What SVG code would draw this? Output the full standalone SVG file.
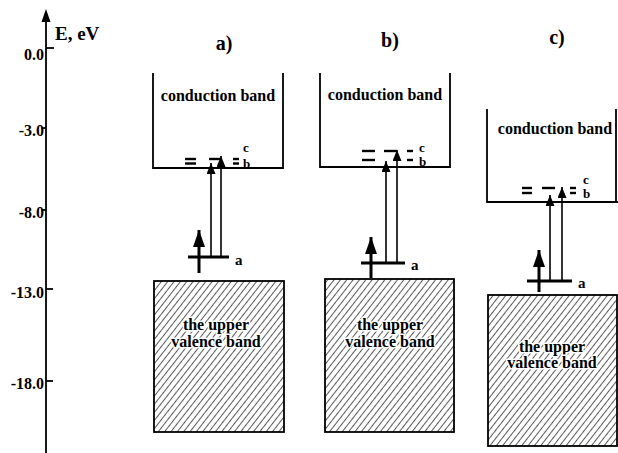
<svg xmlns="http://www.w3.org/2000/svg" width="618" height="453" viewBox="0 0 618 453">
<style>
.t{font-family:"Liberation Serif","DejaVu Serif","Noto Serif",serif;font-weight:bold;fill:#000}
.ln{stroke:#000;fill:none;stroke-width:1.8}
.dash{stroke:#000;stroke-width:2.4}
.lvl{stroke:#000;stroke-width:3}
.thin{stroke:#000;stroke-width:1.6;fill:none}
.thick{stroke:#000;stroke-width:3;fill:none}
.halo{paint-order:stroke;stroke:#fff;stroke-width:3;stroke-linejoin:round}
</style>
<defs>
<pattern id="hatch" width="5" height="10" patternUnits="userSpaceOnUse" patternTransform="rotate(38)">
<line x1="0" y1="-1" x2="0" y2="11" stroke="#000" stroke-width="1.3"/>
</pattern>
<marker id="ah" markerUnits="userSpaceOnUse" markerWidth="11" markerHeight="9" refX="11" refY="4.5" orient="auto">
<path d="M0,0 L11,4.5 L0,9 z" fill="#000"/>
</marker>
<marker id="ahb" markerUnits="userSpaceOnUse" markerWidth="17" markerHeight="12" refX="17" refY="6" orient="auto">
<path d="M0,0 L17,6 L0,12 z" fill="#000"/>
</marker>
</defs>

<g id="axis">
<line x1="46" y1="453" x2="46" y2="20" class="ln" stroke-width="2"/>
<path d="M46,9 L50.5,22 L41.5,22 z" fill="#000"/>
<line x1="46" y1="48" x2="54" y2="48" class="ln"/>
<line x1="42" y1="128" x2="46" y2="128" class="ln"/>
<line x1="42" y1="210" x2="46" y2="210" class="ln"/>
<line x1="46" y1="289" x2="53" y2="289" class="ln"/>
<line x1="46" y1="381" x2="53" y2="381" class="ln"/>
<text class="t" x="55" y="40" font-size="19">E, eV</text>
<text class="t" x="44" y="60" font-size="16" text-anchor="end">0.0</text>
<text class="t" x="44" y="136" font-size="16" text-anchor="end">-3.0</text>
<text class="t" x="44" y="218" font-size="16" text-anchor="end">-8.0</text>
<text class="t" x="44" y="298" font-size="16" text-anchor="end">-13.0</text>
<text class="t" x="44" y="389" font-size="16" text-anchor="end">-18.0</text>
</g>

<g id="titles">
<text class="t" x="224" y="50" font-size="20" text-anchor="middle">a)</text>
<text class="t" x="390" y="47" font-size="20" text-anchor="middle">b)</text>
<text class="t" x="557" y="44" font-size="20" text-anchor="middle">c)</text>
</g>

<!-- panel a -->
<g id="a-conduction">
<path d="M153,73 V168 H283 V73" class="ln"/>
<text class="t" x="218" y="101" font-size="16" text-anchor="middle">conduction band</text>
</g>
<g id="a-levels">
<line x1="185" y1="159" x2="196" y2="159" class="dash"/>
<line x1="185" y1="163.5" x2="196" y2="163.5" class="dash"/>
<line x1="209" y1="159" x2="221" y2="159" class="dash"/>
<line x1="233" y1="159" x2="239" y2="159" class="dash"/>
<line x1="233" y1="163.5" x2="239" y2="163.5" class="dash"/>
<text class="t" x="243" y="152" font-size="13">c</text>
<text class="t" x="243" y="168" font-size="13">b</text>
</g>
<g id="a-level-a">
<line x1="188" y1="257" x2="229" y2="257" class="lvl"/>
<text class="t" x="235" y="265" font-size="15">a</text>
</g>
<g id="a-valence">
<rect x="154" y="281" width="130" height="151" fill="url(#hatch)" stroke="#000" stroke-width="1.8"/>
<text class="t halo" x="216" y="330" font-size="16" text-anchor="middle">the upper</text>
<text class="t halo" x="216" y="347" font-size="16" text-anchor="middle">valence band</text>
</g>

<!-- panel b -->
<g id="b-conduction">
<path d="M320,73 V167 H450 V73" class="ln"/>
<text class="t" x="385" y="100" font-size="16" text-anchor="middle">conduction band</text>
</g>
<g id="b-levels">
<line x1="362" y1="151" x2="375" y2="151" class="dash"/>
<line x1="362" y1="160" x2="375" y2="160" class="dash"/>
<line x1="384" y1="151" x2="397" y2="151" class="dash"/>
<line x1="407" y1="151" x2="413" y2="151" class="dash"/>
<line x1="407" y1="160" x2="413" y2="160" class="dash"/>
<text class="t" x="419" y="152" font-size="13">c</text>
<text class="t" x="419" y="166" font-size="13">b</text>
</g>
<g id="b-level-a">
<line x1="361" y1="263" x2="405" y2="263" class="lvl"/>
<text class="t" x="411" y="270" font-size="15">a</text>
</g>
<g id="b-valence">
<rect x="325" y="279" width="129" height="153" fill="url(#hatch)" stroke="#000" stroke-width="1.8"/>
<text class="t halo" x="390" y="330" font-size="16" text-anchor="middle">the upper</text>
<text class="t halo" x="390" y="347" font-size="16" text-anchor="middle">valence band</text>
</g>

<!-- panel c -->
<g id="c-conduction">
<path d="M487,109 V202 H618" class="ln"/>
<line x1="616" y1="109" x2="616" y2="202" class="ln"/>
<text class="t" x="555" y="134" font-size="16" text-anchor="middle">conduction band</text>
</g>
<g id="c-levels">
<line x1="522" y1="188" x2="532" y2="188" class="dash"/>
<line x1="522" y1="193" x2="532" y2="193" class="dash"/>
<line x1="542" y1="188" x2="555" y2="188" class="dash"/>
<line x1="570" y1="188" x2="576" y2="188" class="dash"/>
<line x1="570" y1="193" x2="576" y2="193" class="dash"/>
<text class="t" x="583" y="184" font-size="13">c</text>
<text class="t" x="583" y="198" font-size="13">b</text>
</g>
<g id="c-level-a">
<line x1="527" y1="281" x2="572" y2="281" class="lvl"/>
<text class="t" x="578" y="288" font-size="15">a</text>
</g>
<g id="c-valence">
<rect x="488" y="295" width="129" height="151" fill="url(#hatch)" stroke="#000" stroke-width="1.8"/>
<text class="t halo" x="552" y="352" font-size="16" text-anchor="middle">the upper</text>
<text class="t halo" x="552" y="368" font-size="16" text-anchor="middle">valence band</text>
</g>

<g id="connectors">
<line x1="211" y1="257" x2="211" y2="163" class="thin" marker-end="url(#ah)"/>
<line x1="221" y1="257" x2="221" y2="156" class="thin" marker-end="url(#ah)"/>
<line x1="199" y1="273" x2="199" y2="230" class="thick" marker-end="url(#ahb)"/>
<line x1="386" y1="263" x2="386" y2="161" class="thin" marker-end="url(#ah)"/>
<line x1="397" y1="263" x2="397" y2="150" class="thin" marker-end="url(#ah)"/>
<line x1="371" y1="278" x2="371" y2="237" class="thick" marker-end="url(#ahb)"/>
<line x1="550" y1="281" x2="550" y2="195" class="thin" marker-end="url(#ah)"/>
<line x1="562" y1="281" x2="562" y2="187" class="thin" marker-end="url(#ah)"/>
<line x1="539" y1="292" x2="539" y2="250" class="thick" marker-end="url(#ahb)"/>
</g>
</svg>
